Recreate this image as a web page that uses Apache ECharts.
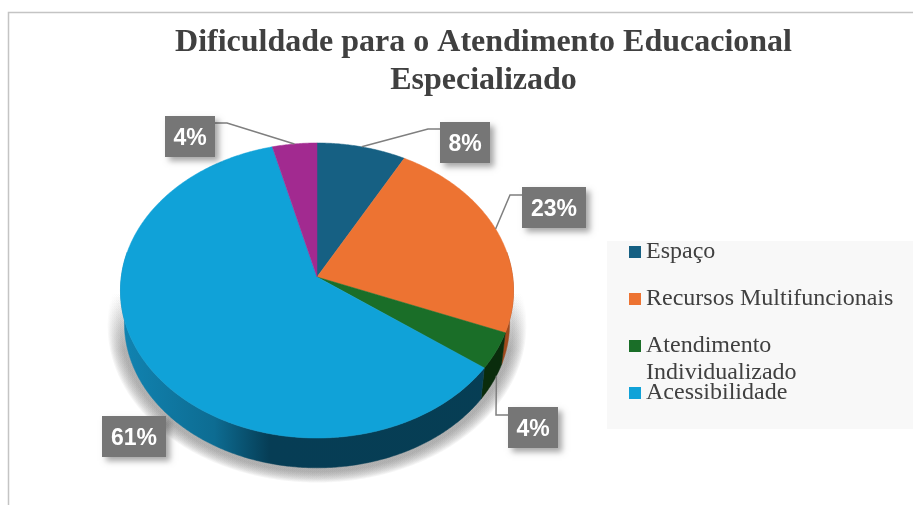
<!DOCTYPE html>
<html>
<head>
<meta charset="utf-8">
<style>html,body{margin:0;padding:0;background:#fff}#c{width:913px;height:505px}</style>
<script src="https://cdn.jsdelivr.net/npm/echarts@6/dist/echarts.min.js"></script>
</head>
<body>
<div id="c"></div>
<script>
// Data
const categories = ['Espaço', 'Recursos Multifuncionais', 'Atendimento Individualizado', 'Acessibilidade', 'Outros'];
const values = [8, 23, 4, 61, 4];
const legendNames = ['Espaço', 'Recursos Multifuncionais', 'Atendimento Individualizado', 'Acessibilidade'];
const titleText = 'Dificuldade para o Atendimento Educacional\nEspecializado';

// Styles and layout
const topColors = ['#166083', '#ed7332', '#1a6e28', '#10a2d8', '#a22a90'];
const wallColors = ['#0e3c52', '#a04a1c', '#0a2c0c', null, '#6a1a5e'];
const labelBoxes = [
  { cx: 465, cy: 142.5, w: 50, h: 41, elbowY: 129, drop: 0 },
  { cx: 554, cy: 207.5, w: 64, h: 41, elbowY: 195, drop: 0 },
  { cx: 533, cy: 427.5, w: 50, h: 41, elbowY: 415, drop: 25 },
  { cx: 134, cy: 436.5, w: 64, h: 41, elbowY: null, drop: 0 },
  { cx: 190, cy: 136.5, w: 50, h: 41, elbowY: 123, drop: 0 }
];
const legendTops = [238.5, 285.5, 305.5, 379.5];
const apex = { x: 317, y: 277 }, A = 195.7, B = 146.3, K = 0.0915;
const baseScale = 0.98, baseDrop = 33;
const shadowRings = 12, shadowSpread = 0.07;

const total = values.reduce((a, b) => a + b, 0);
const cumulative = values.map((_, i) => values.slice(0, i).reduce((a, b) => a + b, 0));

// Perspective projection of a point on the pie rim (deg clockwise from 12 o'clock)
function rim(deg, scale, drop) {
  const t = deg * Math.PI / 180, u = Math.sin(t), v = -Math.cos(t), w = 1 - K * v;
  return [apex.x + scale * A * u / w, apex.y + scale * B * v / w + drop];
}
function arc(from, to, scale, drop) {
  const pts = [], n = Math.max(2, Math.ceil(Math.abs(to - from) * 2));
  for (let i = 0; i <= n; i++) pts.push(rim(from + (to - from) * i / n, scale, drop));
  return pts;
}
const wallGradient = {
  type: 'linear', x: 120, y: 0, x2: 514, y2: 0, global: true,
  colorStops: [
    { offset: 0, color: '#1184b2' }, { offset: 0.24, color: '#0d6c92' },
    { offset: 0.38, color: '#063d55' }, { offset: 1, color: '#063e54' }
  ]
};

function makeRenderer(i) {
  return function (params, api) {
    const a0 = cumulative[i] / total * 360, a1 = (cumulative[i] + api.value(0)) / total * 360;
    const children = [];
    if (i === 0) {
      // soft ground shadow: stacked translucent rings that fade out upwards
      for (let r = 0; r < shadowRings; r++) {
        children.push({
          type: 'polygon', z2: 1,
          shape: { points: arc(0, 360, 0.995 + shadowSpread * (1 - r / shadowRings), 34) },
          style: {
            fill: { type: 'linear', x: 0, y: 292, x2: 0, y2: 350, global: true,
                    colorStops: [{ offset: 0, color: 'rgba(120,120,120,0)' }, { offset: 1, color: 'rgba(120,120,120,0.07)' }] }
          }
        });
      }
    }
    const w0 = Math.max(a0, 80), w1 = Math.min(a1, 280);
    if (w1 > w0) {
      const pts = arc(w0, w1, 1, 0).concat(arc(w1, w0, baseScale, baseDrop));
      const fill = wallColors[i] || wallGradient;
      children.push({ type: 'polygon', z2: 5, shape: { points: pts },
        style: { fill: fill, stroke: fill, lineWidth: 0.5 } });
    }
    const c = topColors[i];
    children.push({ type: 'polygon', z2: 10,
      shape: { points: [[apex.x, apex.y]].concat(arc(a0, a1, 1, 0)) },
      style: { fill: c, stroke: c, lineWidth: 0.5 } });

    const box = labelBoxes[i], mid = (a0 + a1) / 2, anchor = rim(mid, 1, box.drop);
    if (box.elbowY !== null) {
      const side = box.cx > apex.x ? -1 : 1;
      const edgeX = box.cx + side * box.w / 2;
      children.push({ type: 'polyline', z2: 20,
        shape: { points: [anchor, [edgeX + side * 12, box.elbowY], [edgeX, box.elbowY]] },
        style: { stroke: '#7f7f7f', lineWidth: 1.5, fill: null } });
    }
    children.push({ type: 'rect', z2: 30,
      shape: { x: box.cx - box.w / 2, y: box.cy - box.h / 2, width: box.w, height: box.h },
      style: { fill: '#767676', shadowBlur: 6, shadowOffsetX: 4, shadowOffsetY: 4, shadowColor: 'rgba(0,0,0,0.35)' } });
    children.push({ type: 'text', z2: 31,
      style: { text: Math.round(api.value(0)) + '%', x: box.cx, y: box.cy + 2, align: 'center', verticalAlign: 'middle',
               fill: '#ffffff', font: 'bold 23px "Liberation Sans"' } });
    return { type: 'group', children };
  };
}

const legendBase = {
  left: 629, orient: 'vertical', padding: 0, itemWidth: 12, itemHeight: 12, itemGap: 0,
  selectedMode: false, icon: 'rect',
  textStyle: { fontFamily: 'Liberation Serif', fontSize: 24, color: '#404040', lineHeight: 27 }
};

const chart = echarts.init(document.getElementById('c'), null, { renderer: 'canvas' });
chart.setOption({
  animation: false,
  backgroundColor: '#ffffff',
  title: {
    text: titleText, left: 478.5, top: 19, textAlign: 'center',
    textStyle: { fontFamily: 'Liberation Serif', fontWeight: 'bold', fontSize: 32, lineHeight: 38, color: '#404040' }
  },
  tooltip: { show: false },
  graphic: [
    { type: 'polyline', silent: true, z: 0, shape: { points: [[8.5, 505], [8.5, 12.5], [913, 12.5]] },
      style: { stroke: '#c4c4c4', lineWidth: 1.5, fill: null } },
    { type: 'rect', silent: true, z: 0, shape: { x: 607, y: 241, width: 306, height: 188 },
      style: { fill: '#f8f8f8' } }
  ],
  legend: legendNames.map((name, i) => Object.assign({}, legendBase, {
    top: legendTops[i],
    data: [name],
    // a blank first line keeps the icon level with "Atendimento"
    formatter: n => n.replace('Atendimento ', ' \nAtendimento\n')
  })),
  series: categories.map((name, i) => ({
    type: 'custom', name, coordinateSystem: 'none', silent: true,
    itemStyle: { color: topColors[i] },
    data: [[values[i]]],
    renderItem: makeRenderer(i)
  }))
});
</script>
</body>
</html>
